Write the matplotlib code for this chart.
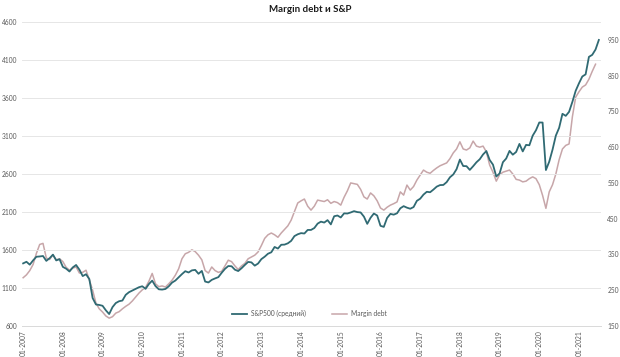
import matplotlib
matplotlib.use("Agg")
import matplotlib.pyplot as plt
import numpy as np

# Monthly data, Jan 2007 onwards
sp500_avg = [
    # 2007
    1424, 1445, 1407, 1463, 1511, 1515, 1521, 1457, 1492, 1539, 1463, 1479,
    # 2008
    1378, 1354, 1317, 1371, 1403, 1341, 1257, 1281, 1217, 968, 883, 877,
    # 2009
    866, 806, 757, 848, 902, 926, 935, 1010, 1045, 1067, 1088, 1110,
    # 2010
    1123, 1089, 1152, 1197, 1125, 1083, 1079, 1087, 1122, 1171, 1198, 1241,
    # 2011
    1283, 1321, 1304, 1332, 1338, 1287, 1325, 1185, 1173, 1207, 1226, 1243,
    # 2012
    1300, 1352, 1389, 1386, 1341, 1323, 1360, 1403, 1443, 1437, 1394, 1422,
    # 2013
    1480, 1512, 1551, 1570, 1640, 1619, 1669, 1671, 1688, 1720, 1783, 1807,
    # 2014
    1822, 1817, 1864, 1864, 1889, 1947, 1973, 1961, 1993, 1937, 2044, 2054,
    # 2015
    2028, 2082, 2080, 2094, 2111, 2099, 2094, 2039, 1944, 2024, 2080, 2054,
    # 2016
    1918, 1904, 2022, 2075, 2065, 2083, 2149, 2177, 2157, 2143, 2165, 2247,
    # 2017
    2275, 2329, 2366, 2360, 2395, 2434, 2454, 2456, 2493, 2557, 2594, 2664,
    # 2018
    2790, 2705, 2703, 2654, 2702, 2754, 2794, 2857, 2902, 2785, 2723, 2567,
    # 2019
    2607, 2755, 2804, 2904, 2854, 2890, 2996, 2897, 2983, 2978, 3104, 3176,
    # 2020
    3278, 3277, 2652, 2762, 2920, 3105, 3208, 3392, 3365, 3418, 3549, 3695,
    # 2021
    3794, 3883, 3911, 4141, 4168, 4238, 4364,
]

margin_debt = [
    # 2007
    285, 293, 305, 322, 353, 378, 381, 340, 336, 349, 335, 338,
    # 2008
    330, 314, 306, 312, 315, 298, 300, 306, 279, 250, 214, 198,
    # 2009
    189, 178, 172, 176, 186, 190, 198, 205, 211, 220, 231, 242,
    # 2010
    251, 258, 275, 297, 268, 260, 262, 259, 268, 278, 292, 310,
    # 2011
    338, 352, 356, 363, 358, 348, 335, 305, 298, 315, 305, 300,
    # 2012
    303, 318, 334, 330, 318, 308, 318, 325, 338, 343, 348, 357,
    # 2013
    375, 395, 405, 410, 405, 398, 410, 420, 430, 446, 470, 494,
    # 2014
    500, 505, 485, 474, 485, 502, 500, 498, 503, 493, 498, 495,
    # 2015
    488, 510, 528, 550, 548, 546, 532, 511, 505, 522, 514, 500,
    # 2016
    480, 474, 482, 488, 492, 497, 525, 516, 544, 530, 540, 558,
    # 2017
    572, 586, 580, 577, 585, 592, 598, 602, 606, 618, 634, 645,
    # 2018
    665, 645, 642, 648, 667, 653, 650, 653, 637, 600, 580, 555,
    # 2019
    573, 580, 583, 586, 575, 560, 558, 553, 555, 562, 567, 562,
    # 2020
    545, 515, 479, 525, 545, 575, 615, 645, 655, 659, 735, 790,
    # 2021
    805, 818, 824, 840, 862, 882,
]

years = list(range(2007, 2022))
tick_labels = [f"01-{y}" for y in years]
left_ticks = [600, 1100, 1600, 2100, 2600, 3100, 3600, 4100, 4600]
right_ticks = [150, 250, 350, 450, 550, 650, 750, 850, 950]

FONT = ["Lato", "DejaVu Sans"]
plt.rcParams["font.family"] = FONT

W, H = 620, 357
fig = plt.figure(figsize=(W / 100, H / 100), dpi=100)
ax = fig.add_axes([21.5 / W, 1 - 326 / H, (600.5 - 21.5) / W, (326 - 22) / H])
ax2 = ax.twinx()

x_sp = np.arange(len(sp500_avg))
x_md = np.arange(len(margin_debt))

teal = "#306a73"
pink = "#c7a6a9"

l1, = ax.plot(x_sp, sp500_avg, color=teal, lw=1.3, label="S&P500 (средний)", zorder=3)
l2, = ax2.plot(x_md, margin_debt, color=pink, lw=1.1, label="Margin debt", zorder=2)

ax.set_zorder(ax2.get_zorder() + 1)
ax.patch.set_visible(False)

ax.set_ylim(600, 4600)
ax2.set_ylim(150, 1000)
ax.set_xlim(-0.5, 174.5)

ax.set_yticks(left_ticks)
ax.set_yticklabels([str(v) for v in left_ticks])
ax2.set_yticks(right_ticks)
ax2.set_yticklabels([str(v) for v in right_ticks])

ax.set_xticks([12 * i for i in range(len(years))])
ax.set_xticklabels(tick_labels, rotation=90, va="top", ha="center")

for a in (ax, ax2):
    for s in a.spines.values():
        s.set_visible(False)
    a.tick_params(axis="both", length=0, labelsize=4.8, colors="#595959")

ax.tick_params(axis="y", pad=3)
ax2.tick_params(axis="y", pad=5)
ax.tick_params(axis="x", pad=3)

ax.grid(axis="y", color="#e6e6e6", lw=0.7)
ax.set_axisbelow(True)
ax.spines["bottom"].set_visible(True)
ax.spines["bottom"].set_color("#d9d9d9")
ax.spines["bottom"].set_linewidth(0.7)

leg = ax.legend(handles=[l1, l2], loc="center", bbox_to_anchor=(0.497, 0.04),
                ncol=2, frameon=False, fontsize=4.8, handlelength=2.2,
                columnspacing=4.0, handletextpad=0.6)
for t in leg.get_texts():
    t.set_color("#595959")

fig.text(0.5, 1 - 9 / H, "Margin debt и S&P", ha="center", va="center",
         fontsize=7, fontweight="bold", color="#1a1a1a")

fig.savefig("out.png", dpi=100, facecolor="white")
